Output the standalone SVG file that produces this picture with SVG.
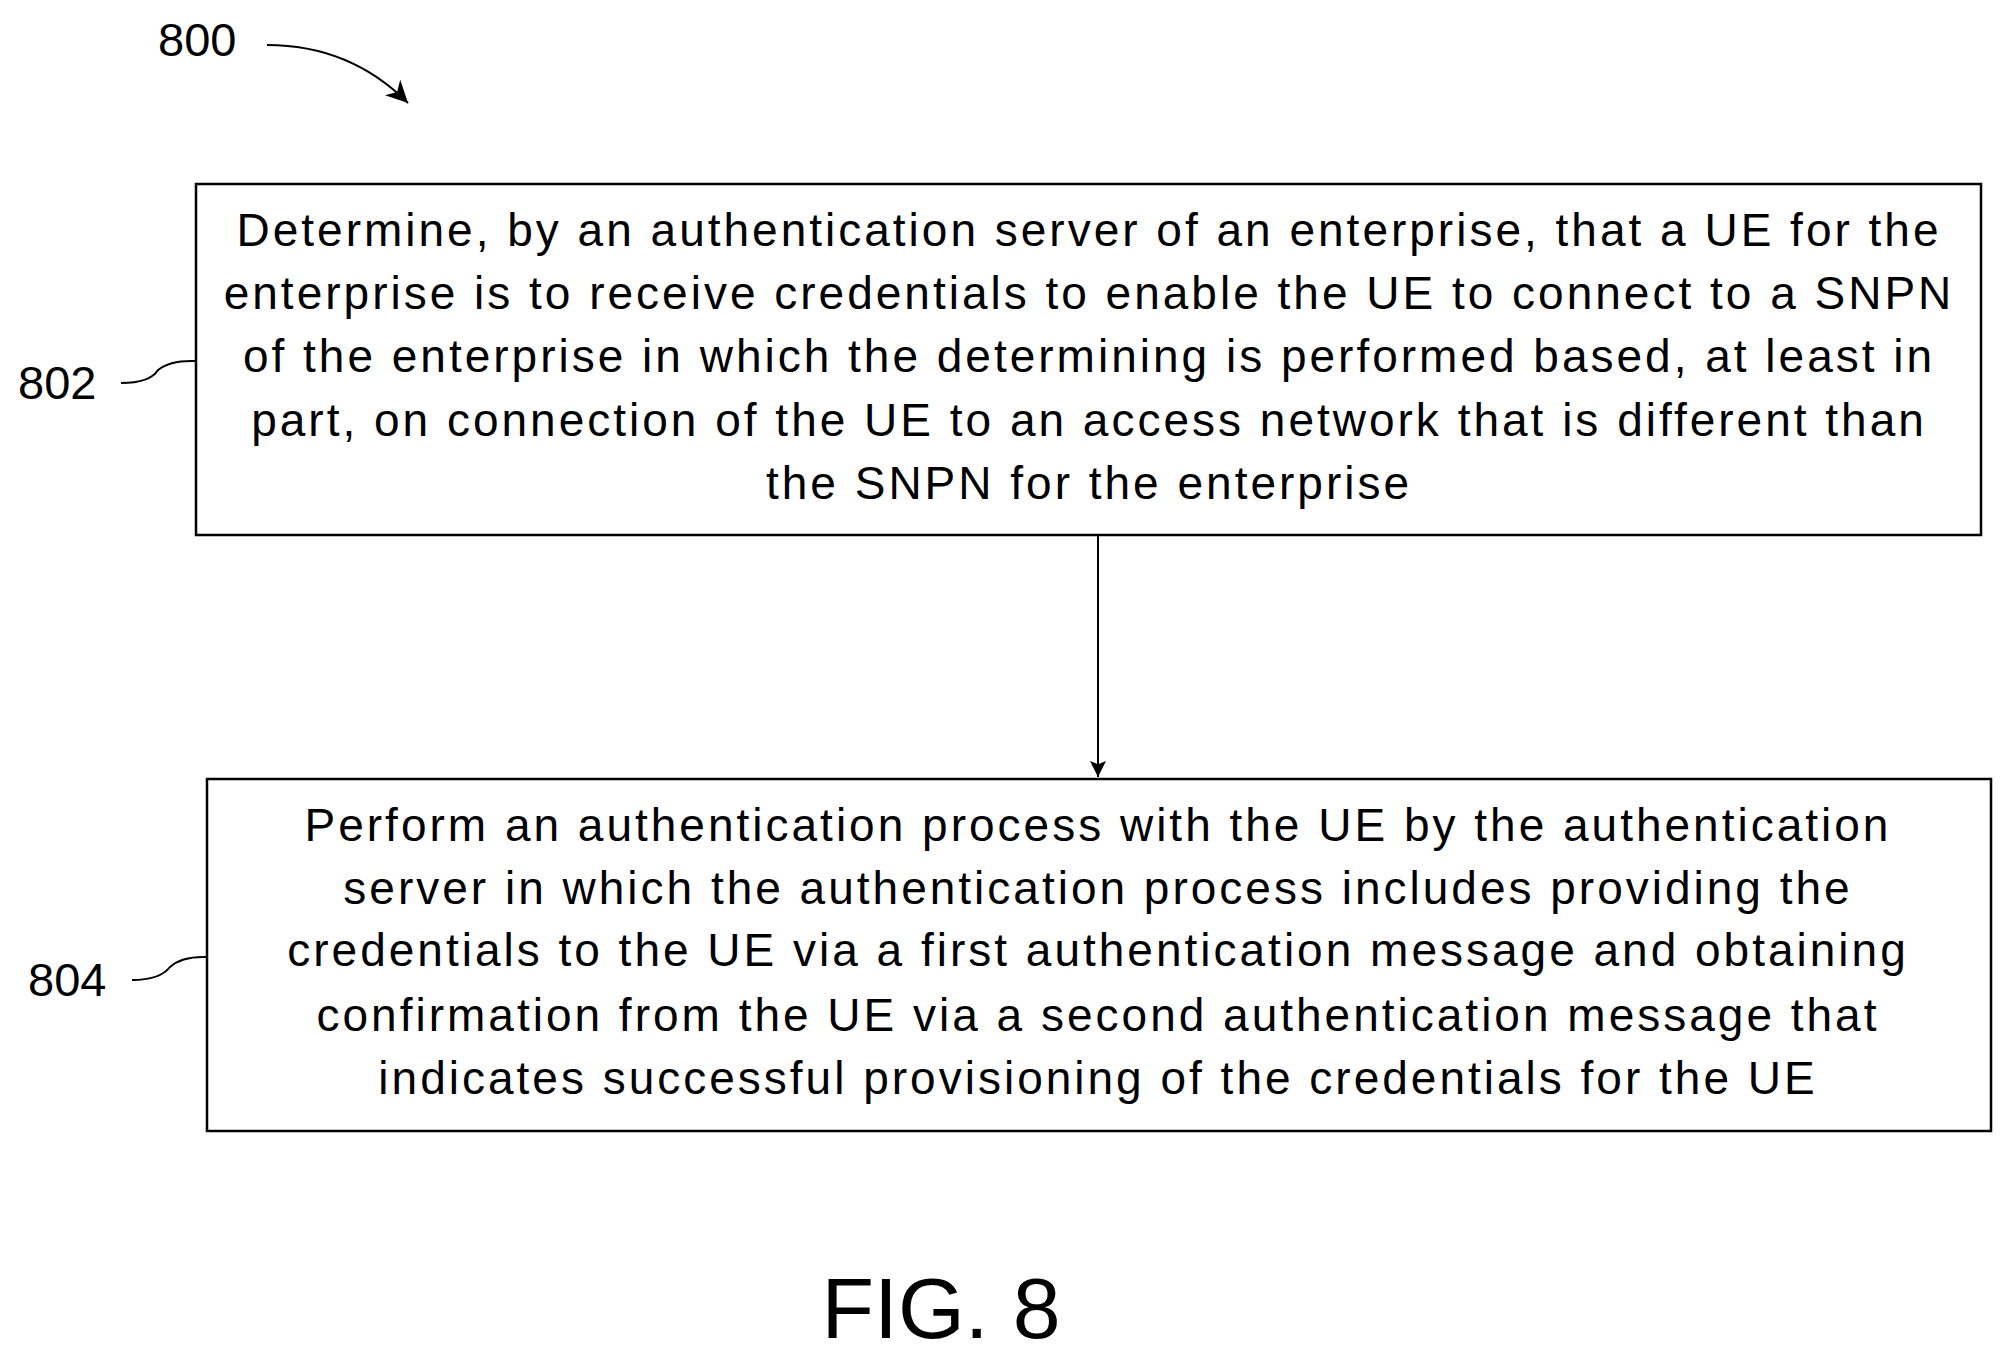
<svg xmlns="http://www.w3.org/2000/svg" width="2013" height="1360" viewBox="0 0 2013 1360">
<style>
.box{fill:#fff;stroke:#000;stroke-width:2.5}
.t{font-family:"Liberation Sans",Arial,sans-serif;font-size:46px;letter-spacing:3px;text-anchor:middle;fill:#000}
.lbl{font-family:"Liberation Sans",Arial,sans-serif;font-size:47px;fill:#000}
.ln{fill:none;stroke:#000;stroke-width:2}
</style>
<defs><marker id="ah" markerWidth="16" markerHeight="24" refX="10" refY="5" orient="auto" markerUnits="userSpaceOnUse" viewBox="0 0 10 10"><path d="M0,0 L10,5 L0,10 L2,5 z" fill="#000"/></marker>
<marker id="ah2" markerWidth="22" markerHeight="22" refX="10" refY="5" orient="auto" markerUnits="userSpaceOnUse" viewBox="0 0 10 10"><path d="M0,0 L10,5 L0,10 L3,5 z" fill="#000"/></marker></defs>
<rect width="2013" height="1360" fill="#fff"/>
<text class="lbl" x="158" y="56">800</text>
<g id="connectors">
<path class="ln" d="M267,45 Q350,45 408,103" marker-end="url(#ah2)"/>
<line class="ln" x1="1098" y1="535" x2="1098" y2="777" marker-end="url(#ah)"/>
<path class="ln" d="M121,383 Q150,383 158,370 Q170,360 196,361"/>
<path class="ln" d="M132,980 Q160,980 170,967 Q182,956 207,957"/>
</g>
<g id="n802">
<rect class="box" x="196" y="184" width="1785" height="351"/>
<text class="t" x="1089" y="246">Determine, by an authentication server of an enterprise, that a UE for the</text>
<text class="t" x="1089" y="309">enterprise is to receive credentials to enable the UE to connect to a SNPN</text>
<text class="t" x="1089" y="372">of the enterprise in which the determining is performed based, at least in</text>
<text class="t" x="1089" y="436">part, on connection of the UE to an access network that is different than</text>
<text class="t" x="1089" y="499">the SNPN for the enterprise</text>
<text class="lbl" x="18" y="399">802</text>
</g>
<g id="n804">
<rect class="box" x="207" y="779" width="1784" height="352"/>
<text class="t" x="1098" y="841">Perform an authentication process with the UE by the authentication</text>
<text class="t" x="1098" y="904">server in which the authentication process includes providing the</text>
<text class="t" x="1098" y="966">credentials to the UE via a first authentication message and obtaining</text>
<text class="t" x="1098" y="1031">confirmation from the UE via a second authentication message that</text>
<text class="t" x="1098" y="1094">indicates successful provisioning of the credentials for the UE</text>
<text class="lbl" x="28" y="996">804</text>
</g>
<text x="941" y="1338" style="font-family:'Liberation Sans',Arial,sans-serif;font-size:86px;text-anchor:middle">FIG. 8</text>
</svg>
